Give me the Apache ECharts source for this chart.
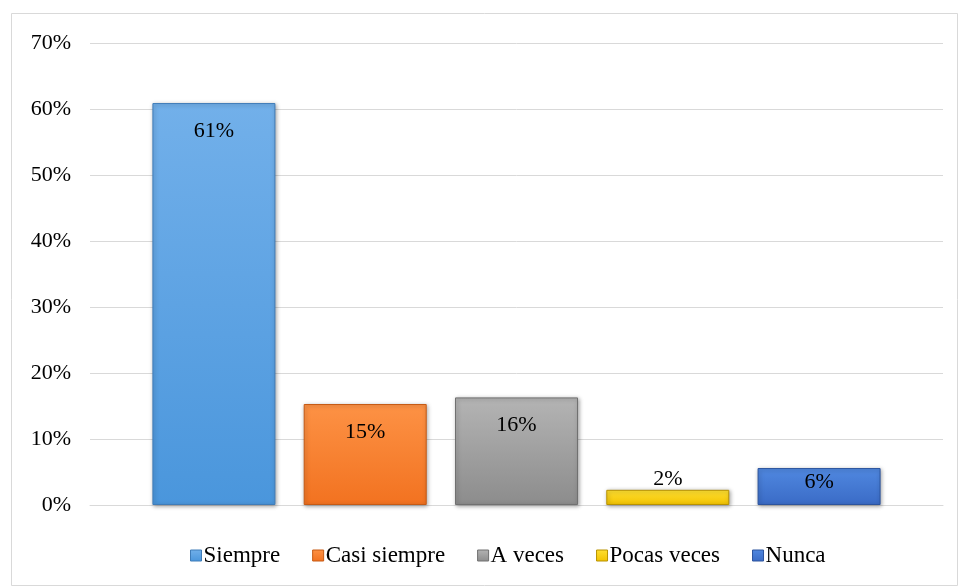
<!DOCTYPE html>
<html>
<head>
<meta charset="utf-8">
<script src="https://cdn.jsdelivr.net/npm/echarts@6/dist/echarts.min.js"></script>
<style>
  html, body { margin: 0; padding: 0; background: #fff; }
  #chart { width: 960px; height: 587px; }
</style>
</head>
<body>
<div id="chart"></div>
<script>
// datos
var categories = ['']
var seriesNames = ['Siempre', 'Casi siempre', 'A veces', 'Pocas veces', 'Nunca']
var values = [60.9, 15.3, 16.3, 2.3, 5.6]
var yTicks = [0, 10, 20, 30, 40, 50, 60, 70]

// colores: [arriba, abajo, borde]
var colors = [
  ['#72b0ea', '#4a96dc', '#3f7cb8'],
  ['#fd9245', '#f27220', '#c65a14'],
  ['#b4b4b4', '#8c8c8c', '#707070'],
  ['#ffe033', '#f2c200', '#b89200'],
  ['#5088e0', '#3a6bc6', '#2c549e']
]
// posicion de la etiqueta como en el original
var labelPos = ['insideTop', 'insideTop', 'insideTop', 'top', 'insideTop']
var labelDist = [17, 17, 17, 0, 3]

function grad (c) {
  return new echarts.graphic.LinearGradient(0, 0, 0, 1, [
    { offset: 0, color: c[0] },
    { offset: 1, color: c[1] }
  ])
}

var font = 'Liberation Serif'
var chart = echarts.init(document.getElementById('chart'))

var series = seriesNames.map(function (name, i) {
  return {
    name: name,
    type: 'bar',
    data: [values[i]],
    barWidth: 123,
    barGap: '23%',
    itemStyle: {
      color: grad(colors[i]),
      borderColor: colors[i][2],
      borderWidth: 1,
      shadowColor: 'rgba(0,0,0,0.35)',
      shadowBlur: 4,
      shadowOffsetX: 1,
      shadowOffsetY: 1
    },
    label: {
      show: true,
      position: labelPos[i],
      distance: labelDist[i],
      fontFamily: font,
      fontSize: 22,
      color: '#000',
      formatter: function (p) { return Math.round(p.value) + '%' }
    }
  }
})

chart.setOption({
  backgroundColor: '#fff',
  animation: false,
  graphic: [{
    type: 'rect',
    shape: { x: 11.5, y: 13.5, width: 946, height: 572 },
    style: { fill: 'none', stroke: '#d9d9d9', lineWidth: 1 },
    silent: true
  }],
  grid: { left: 90, right: 17, top: 43, bottom: 82 },
  legend: {
    data: seriesNames.map(function (n, i) {
      return { name: n, itemStyle: { color: grad(colors[i]), borderColor: colors[i][2], borderWidth: 1 } }
    }),
    bottom: 15,
    left: 185,
    icon: 'rect',
    itemWidth: 11,
    itemHeight: 11,
    itemGap: 32,
    textStyle: { fontFamily: font, fontSize: 23, color: '#000', padding: [0, 0, 0, -3] }
  },
  xAxis: {
    type: 'category',
    data: categories,
    axisLine: { lineStyle: { color: '#d9d9d9' } },
    axisTick: { show: false },
    axisLabel: { show: false }
  },
  yAxis: {
    type: 'value',
    min: yTicks[0],
    max: yTicks[yTicks.length - 1],
    interval: 10,
    axisLine: { show: false },
    axisTick: { show: false },
    splitLine: { lineStyle: { color: '#d9d9d9' } },
    axisLabel: {
      fontFamily: font,
      fontSize: 22,
      color: '#000',
      margin: 19,
      formatter: '{value}%'
    }
  },
  series: series
})
</script>
</body>
</html>
